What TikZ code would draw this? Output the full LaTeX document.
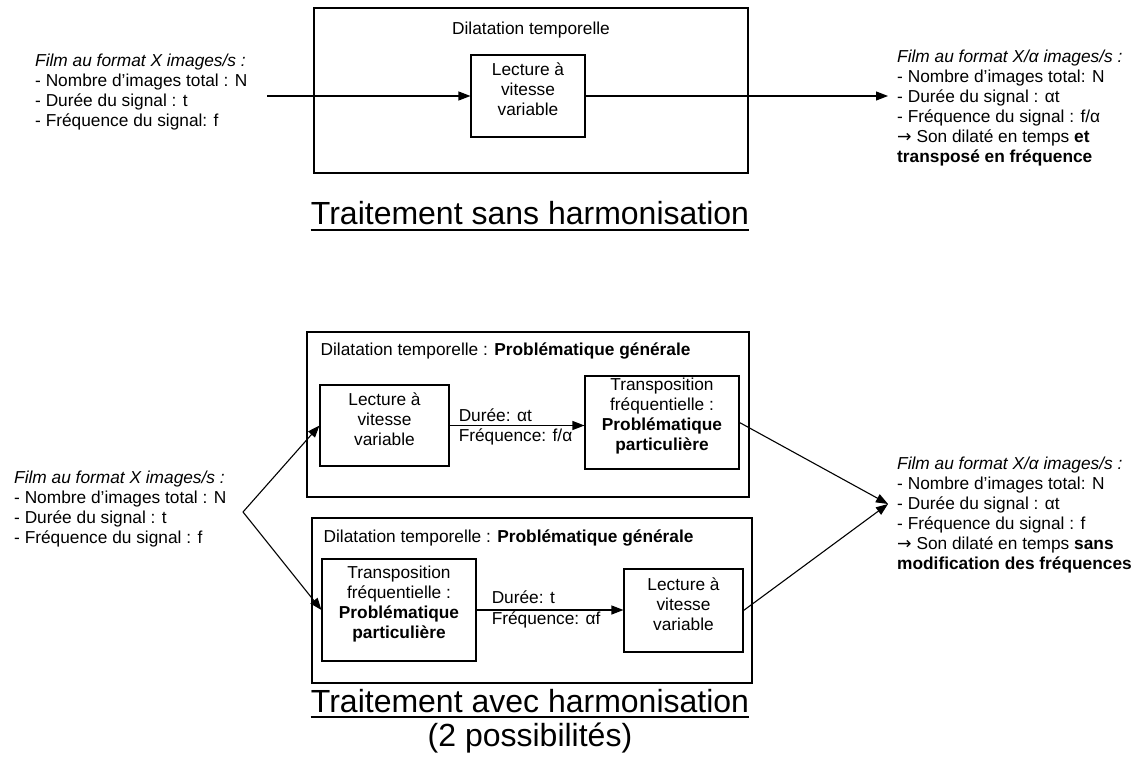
\documentclass[tikz,border=0pt]{standalone}
\usepackage{fontspec}
\setmainfont{Liberation Sans}
\newfontfamily\arrowfont{DejaVu Sans}
\usepackage{tikz}
\usetikzlibrary{arrows.meta,positioning,fit}
\newcommand{\bodyfont}{\fontsize{17.3}{20}\selectfont}
\newcommand{\titlefont}{\fontsize{32}{38}\selectfont}
\newcommand{\thus}{{\arrowfont →}}

\begin{document}
\begin{tikzpicture}[x=1pt, y=-1pt,
  frame/.style={draw, line width=1.1pt, inner sep=0pt},
  box/.style={draw, line width=1.1pt, inner sep=0pt, align=center, font=\bodyfont},
  txt/.style={align=left, inner sep=0pt, font=\bodyfont},
  lbl/.style={inner sep=0pt, font=\bodyfont, anchor=base west},
  ttl/.style={inner sep=0pt, font=\titlefont, anchor=base},
  uline/.style={line width=2.2pt},
  arr/.style={-{Triangle[length=12pt,width=9pt]}, line width=1.1pt}
]
  \useasboundingbox (0,0) rectangle (1146,778);

  \node[frame, fit={(314,8) (748,173)}] (dil) {};
  \node[txt, below=14pt of dil.north] (dilT) {Dilatation temporelle};
  \node[box, fit={(471,55) (585,137)}] (lec) {Lecture à\\vitesse\\variable};
  \node[txt, anchor=north west] (srcA) at (35,54) {\textit{Film au format X images/s :}\\- Nombre d’images total : N\\- Durée du signal : t\\- Fréquence du signal: f};
  \node[txt, anchor=north west] (dstA) at (897,50) {\textit{Film au format X/α images/s :}\\- Nombre d’images total: N\\- Durée du signal : αt\\- Fréquence du signal : f/α\\\thus{} Son dilaté en temps \textbf{et}\\\textbf{transposé en fréquence}};
  \coordinate (inA) at (267,96);
  \coordinate (outA) at (888,96);
  \draw[arr] (inA) -- (lec);
  \draw[arr] (lec) -- (outA);
  \node[ttl] (ttlA) at (530,225) {Traitement sans harmonisation};
  \draw[uline] ([yshift=-5pt]ttlA.base west) -- ([yshift=-5pt]ttlA.base east);

  \node[frame, fit={(307,332) (749,497)}] (dilA) {};
  \node[txt, below right=11pt and 14pt of dilA.north west] (dilAT) {Dilatation temporelle : \textbf{Problématique générale}};
  \node[box, fit={(320,385) (449,466)}] (lecA) {Lecture à\\vitesse\\variable};
  \node[box, fit={(585,376) (739,469)}] (trA) {Transposition\\fréquentielle :\\\textbf{Problématique}\\\textbf{particulière}};
  \draw[arr] (lecA.east) -- (lecA.east -| trA.west);
  \node[lbl] (durA) at ([xshift=9pt, yshift=4.5pt]lecA.east) {Durée: αt};
  \node[lbl] (frqA) at ([xshift=9pt, yshift=-15.5pt]lecA.east) {Fréquence: f/α};

  \node[frame, fit={(312,518) (752,683)}] (dilB) {};
  \node[txt, below right=12pt and 12pt of dilB.north west] (dilBT) {Dilatation temporelle : \textbf{Problématique générale}};
  \node[box, fit={(322,559) (476,661)}] (trB) {Transposition\\fréquentielle :\\\textbf{Problématique}\\\textbf{particulière}};
  \node[box, fit={(624,569) (743,652)}] (lecB) {Lecture à\\vitesse\\variable};
  \draw[arr] (trB.east) -- (trB.east -| lecB.west);
  \node[lbl] (durB) at ([xshift=15pt, yshift=7pt]trB.east) {Durée: t};
  \node[lbl] (frqB) at ([xshift=15pt, yshift=-14pt]trB.east) {Fréquence: αf};

  \node[txt, anchor=north west] (srcB) at (14,471) {\textit{Film au format X images/s :}\\- Nombre d’images total : N\\- Durée du signal : t\\- Fréquence du signal : f};
  \node[txt, anchor=north west] (dstB) at (897,457) {\textit{Film au format X/α images/s :}\\- Nombre d’images total: N\\- Durée du signal : αt\\- Fréquence du signal : f\\\thus{} Son dilaté en temps \textbf{sans}\\\textbf{modification des fréquences}};
  \coordinate (fork) at (243,512);
  \coordinate (join) at (888,504);
  \draw[arr] (fork) -- (lecA.west);
  \draw[arr] (fork) -- (trB.west);
  \draw[arr] (trA.east) -- (join);
  \draw[arr] (lecB.east) -- (join);

  \node[ttl] (ttlB) at (530,712) {Traitement avec harmonisation};
  \draw[uline] ([yshift=-5pt]ttlB.base west) -- ([yshift=-5pt]ttlB.base east);
  \node[ttl] (possB) at (530,746) {(2 possibilités)};
\end{tikzpicture}
\end{document}
